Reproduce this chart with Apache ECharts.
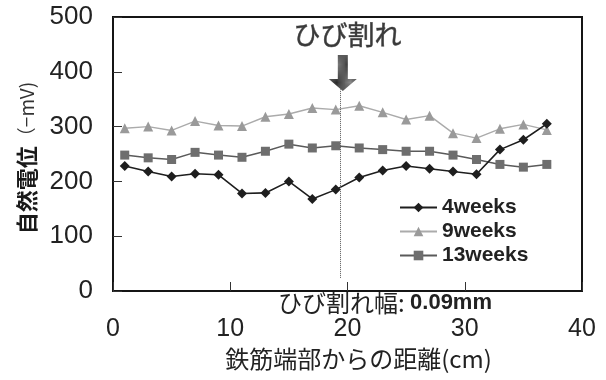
<!DOCTYPE html>
<html>
<head>
<meta charset="utf-8">
<script src="https://cdn.jsdelivr.net/npm/echarts@6/dist/echarts.min.js"></script>
<style>
  html, body { margin: 0; padding: 0; background: #fff; }
  #chart { width: 606px; height: 380px; }
</style>
</head>
<body>
<div id="chart"></div>
<script>
// Distance from the rebar end (cm)
const distance = [1, 3, 5, 7, 9, 11, 13, 15, 17, 19, 21, 23, 25, 27, 29, 31, 33, 35, 37];
// Natural potential (-mV) per exposure period
const weeks4  = [228, 218, 209, 214, 212, 178, 179, 200, 168, 185, 207, 220, 228, 223, 218, 213, 258, 276, 305];
const weeks9  = [297, 300, 293, 310, 302, 301, 318, 323, 334, 331, 338, 326, 313, 320, 288, 279, 296, 304, 294];
const weeks13 = [248, 243, 240, 253, 248, 244, 255, 268, 261, 265, 261, 258, 255, 255, 248, 240, 231, 226, 231];
const seriesNames = ['4weeks', '9weeks', '13weeks'];
// Crack location marker
const crackX = 19.4;
const crackLineFrom = 24;
const crackLineTo = 368;
const crackArrowAt = [19.6, 398];
const crackLabelAt = [20.0, 468];
const crackLabel = 'ひび割れ';
const crackWidthText = 'ひび割れ幅: ';
const crackWidthValue = '0.09mm';

const pair = (xs, ys) => xs.map((x, i) => [x, ys[i]]);

// dithered fill for the arrow
const pat = document.createElement('canvas');
pat.width = 2; pat.height = 2;
const pc = pat.getContext('2d');
pc.fillStyle = '#2a2a2a'; pc.fillRect(0, 0, 2, 2);
pc.fillStyle = '#8a8a8a'; pc.fillRect(0, 0, 1, 1); pc.fillRect(1, 1, 1, 1);

const chart = echarts.init(document.getElementById('chart'), null, { renderer: 'canvas' });
const sans = 'Liberation Sans, Arial, sans-serif';
const cjk = 'Noto Sans CJK JP, sans-serif';

chart.setOption({
  backgroundColor: '#fff',
  animation: false,
  grid: {
    left: 113, right: 24, top: 17, bottom: 89,
    show: true, borderColor: '#151515', borderWidth: 2, backgroundColor: 'transparent'
  },
  xAxis: {
    type: 'value', min: 0, max: 40, interval: 10,
    name: '鉄筋端部からの距離(cm)', nameLocation: 'middle', nameGap: 56,
    nameTextStyle: { fontFamily: cjk, fontSize: 24, color: '#222', padding: [0, 0, 0, 22] },
    axisLine: { show: true, lineStyle: { color: '#151515', width: 2 } },
    axisTick: { show: true, inside: true, length: 9, lineStyle: { color: '#333', width: 1 } },
    axisLabel: { fontFamily: sans, fontSize: 25, color: '#222', margin: 26 },
    splitLine: { show: false }
  },
  yAxis: {
    type: 'value', min: 0, max: 500, interval: 100,
    axisLine: { show: true, lineStyle: { color: '#151515', width: 2 } },
    axisTick: { show: true, inside: true, length: 9, lineStyle: { color: '#333', width: 1 } },
    axisLabel: { fontFamily: sans, fontSize: 26, color: '#222', margin: 20 },
    splitLine: { show: false }
  },
  legend: {
    data: seriesNames,
    orient: 'vertical', left: 394, top: 192,
    itemWidth: 37, itemHeight: 12, itemGap: 3,
    textStyle: { fontFamily: sans, fontSize: 21, fontWeight: 'bold', color: '#222' }
  },
  series: [
    {
      name: '4weeks', type: 'line', data: pair(distance, weeks4),
      symbol: 'diamond', symbolSize: 10,
      lineStyle: { color: '#1e1e1e', width: 1.6 },
      itemStyle: { color: '#1e1e1e' },
      z: 4
    },
    {
      name: '9weeks', type: 'line', data: pair(distance, weeks9),
      symbol: 'triangle', symbolSize: 10,
      lineStyle: { color: '#ababab', width: 1.4 },
      itemStyle: { color: '#9a9a9a' },
      z: 2
    },
    {
      name: '13weeks', type: 'line', data: pair(distance, weeks13),
      symbol: 'rect', symbolSize: 9,
      lineStyle: { color: '#5a5a5a', width: 1.5 },
      itemStyle: { color: '#6e6e6e' },
      z: 3
    },
    {
      name: 'crack', type: 'line', data: [], silent: true,
      markLine: {
        silent: true, symbol: 'none', label: { show: false },
        lineStyle: { type: 'dotted', color: '#555', width: 1 },
        data: [[{ coord: [crackX, crackLineFrom] }, { coord: [crackX, crackLineTo] }]]
      },
      markPoint: {
        silent: true,
        data: [
          {
            coord: crackArrowAt,
            symbol: 'path://M9,0 L19,0 L19,24 L28,24 L14,36 L0,24 L9,24 Z',
            symbolSize: [28, 36], symbolKeepAspect: false,
            itemStyle: { color: { image: pat, repeat: 'repeat' } },
            label: { show: false }
          },
          {
            coord: crackLabelAt, symbol: 'rect', symbolSize: 0,
            label: {
              show: true, position: 'inside', formatter: crackLabel,
              fontFamily: cjk, fontSize: 27, color: '#3a3a3a',
              textBorderColor: '#666', textBorderWidth: 0.6
            }
          }
        ]
      }
    }
  ],
  graphic: [
    {
      type: 'text', x: 385, y: 303,
      style: {
        text: '{n|' + crackWidthText + '}{b|' + crackWidthValue + '}',
        align: 'center', verticalAlign: 'middle',
        rich: {
          n: { fontFamily: cjk, fontSize: 24, fill: '#222' },
          b: { fontFamily: sans, fontSize: 22, fontWeight: 'bold', fill: '#222' }
        }
      }
    },
    {
      type: 'text', x: 27, y: 158, rotation: Math.PI / 2,
      style: {
        text: '{b|自然電位}{n|（−mV)}',
        align: 'center', verticalAlign: 'middle',
        rich: {
          b: { fontFamily: cjk, fontSize: 22, fontWeight: 'bold', fill: '#1a1a1a' },
          n: { fontFamily: cjk, fontSize: 19, fill: '#333' }
        }
      }
    }
  ]
});
</script>
</body>
</html>
